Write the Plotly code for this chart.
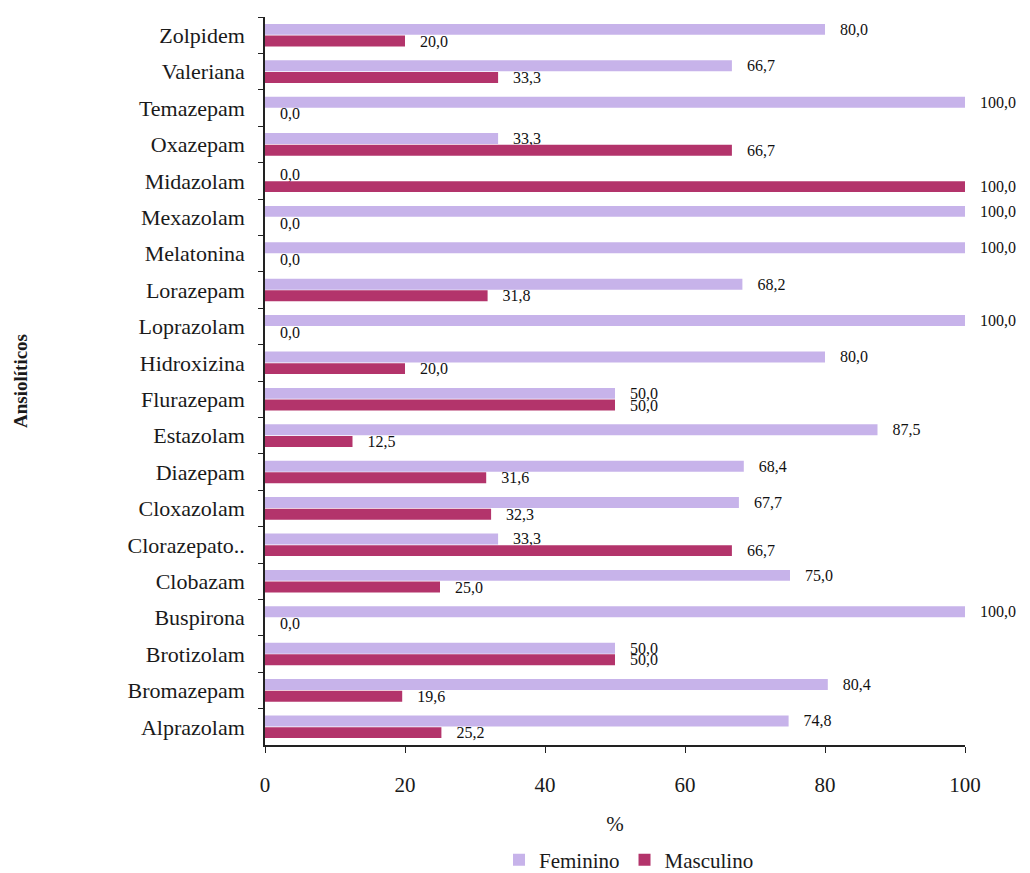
import plotly.graph_objects as go

categories = ["Zolpidem", "Valeriana", "Temazepam", "Oxazepam", "Midazolam", "Mexazolam",
              "Melatonina", "Lorazepam", "Loprazolam", "Hidroxizina", "Flurazepam", "Estazolam",
              "Diazepam", "Cloxazolam", "Clorazepato..", "Clobazam", "Buspirona", "Brotizolam",
              "Bromazepam", "Alprazolam"]
feminino = [80.0, 66.7, 100.0, 33.3, 0.0, 100.0, 100.0, 68.2, 100.0, 80.0,
            50.0, 87.5, 68.4, 67.7, 33.3, 75.0, 100.0, 50.0, 80.4, 74.8]
masculino = [20.0, 33.3, 0.0, 66.7, 100.0, 0.0, 0.0, 31.8, 0.0, 20.0,
             50.0, 12.5, 31.6, 32.3, 66.7, 25.0, 0.0, 50.0, 19.6, 25.2]
x_ticks = [0, 20, 40, 60, 80, 100]

FONT = "Liberation Serif"
PAD = "\u00a0\u00a0\u00a0"


def fmt(v):
    return PAD + f"{v:.1f}".replace(".", ",")


fig = go.Figure()
fig.add_trace(go.Bar(
    name="Feminino", y=categories, x=feminino, orientation="h",
    marker=dict(color="#C7B3EA", line=dict(width=0)),
    text=[fmt(v) for v in feminino], textposition="outside",
    constraintext="none", cliponaxis=False,
    textfont=dict(family=FONT, size=16, color="#111"),
))
fig.add_trace(go.Bar(
    name="Masculino", y=categories, x=masculino, orientation="h",
    marker=dict(color="#B3346B", line=dict(width=0)),
    text=[fmt(v) for v in masculino], textposition="outside",
    constraintext="none", cliponaxis=False,
    textfont=dict(family=FONT, size=16, color="#111"),
))

fig.update_layout(
    width=1030, height=873,
    margin=dict(l=265, r=65, t=17, b=128, autoexpand=False),
    paper_bgcolor="white", plot_bgcolor="white",
    font=dict(family=FONT, size=21, color="#1a1a1a"),
    barmode="group", bargap=0.36, bargroupgap=0.06,
    showlegend=True,
    legend=dict(orientation="h", x=0.52, xanchor="center", y=-0.158, yanchor="middle",
                font=dict(family=FONT, size=21), itemwidth=30, traceorder="normal"),
    xaxis=dict(
        range=[0, 100], tickvals=x_ticks, ticktext=[str(v) for v in x_ticks],
        automargin=False,
        showgrid=False, zeroline=False, showline=True, linecolor="#222", linewidth=1.5,
        ticks="outside", ticklen=6, tickcolor="#222", ticklabelstandoff=14,
        tickfont=dict(family=FONT, size=21),
        title=dict(text="%", font=dict(family=FONT, size=21), standoff=20),
    ),
    yaxis=dict(
        autorange="reversed", type="category", automargin=False,
        showgrid=False, zeroline=False, showline=True, linecolor="#222", linewidth=1.5,
        ticks="outside", ticklen=5, tickcolor="#222", tickson="boundaries",
        ticklabelstandoff=14, tickfont=dict(family=FONT, size=22),
        title=dict(text="<b>Ansiolíticos</b>", font=dict(family=FONT, size=19), standoff=95),
    ),
)

fig.write_html("out.html")
